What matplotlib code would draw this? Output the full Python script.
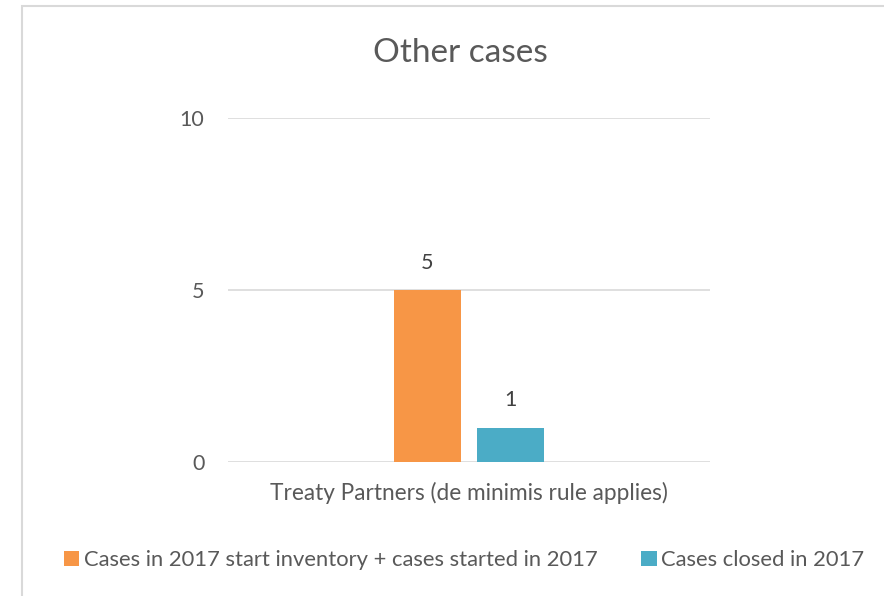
import numpy as np
import matplotlib.pyplot as plt
from matplotlib.patches import Rectangle

plt.rcParams['font.family'] = ['Lato', 'DejaVu Sans']

categories = ['Treaty Partners (de minimis rule applies)']
started = [5]
closed = [1]
series_names = ['Cases in 2017 start inventory + cases started in 2017', 'Cases closed in 2017']
colors = ['#F79646', '#4BACC6']
text_color = '#595959'

fig = plt.figure(figsize=(8.84, 5.96), dpi=100)
fig.patches.append(Rectangle((22 / 884, -0.1), 1.2, 1 - 6 / 596 + 0.1, transform=fig.transFigure,
                             fill=False, edgecolor='#d9d9d9', linewidth=1.5))
ax = fig.add_axes([228 / 884, 1 - 462 / 596, 482 / 884, 344 / 596])

x = np.arange(len(categories))
barWidth = 0.139
off = 0.087
b1 = ax.bar(x - off, started, width=barWidth, color=colors[0], label=series_names[0], zorder=3)
b2 = ax.bar(x + off, closed, width=barWidth, color=colors[1], label=series_names[1], zorder=3)
for bars in (b1, b2):
    for r in bars:
        ax.text(r.get_x() + r.get_width() / 2, r.get_height() + 0.5, str(int(r.get_height())),
                ha='center', va='bottom', fontsize=15.5, color='#404040')

ax.set_xlim(-0.5, 0.5)
ax.set_ylim(0, 10)
ax.set_yticks([0, 5, 10])
ax.grid(axis='y', color='#d9d9d9', linewidth=1.2, zorder=0)
for s in ['top', 'right', 'left', 'bottom']:
    ax.spines[s].set_visible(False)
ax.tick_params(axis='both', length=0, labelsize=15.5, labelcolor=text_color)
ax.tick_params(axis='y', pad=17)
ax.set_xticks(x)
ax.set_xticklabels(categories, fontsize=16.3)
ax.tick_params(axis='x', pad=14)

fig.text(460 / 884, 1 - 53 / 596, 'Other cases', ha='center', va='center', fontsize=24, color=text_color)

leg = fig.legend(loc='center', bbox_to_anchor=(464 / 884, 1 - 560 / 596), ncol=2, frameon=False,
                 fontsize=15.8, handlelength=0.7, handleheight=0.7, handletextpad=0.2, columnspacing=2.0,
                 labelcolor=text_color)

plt.savefig('out.png', dpi=100)
